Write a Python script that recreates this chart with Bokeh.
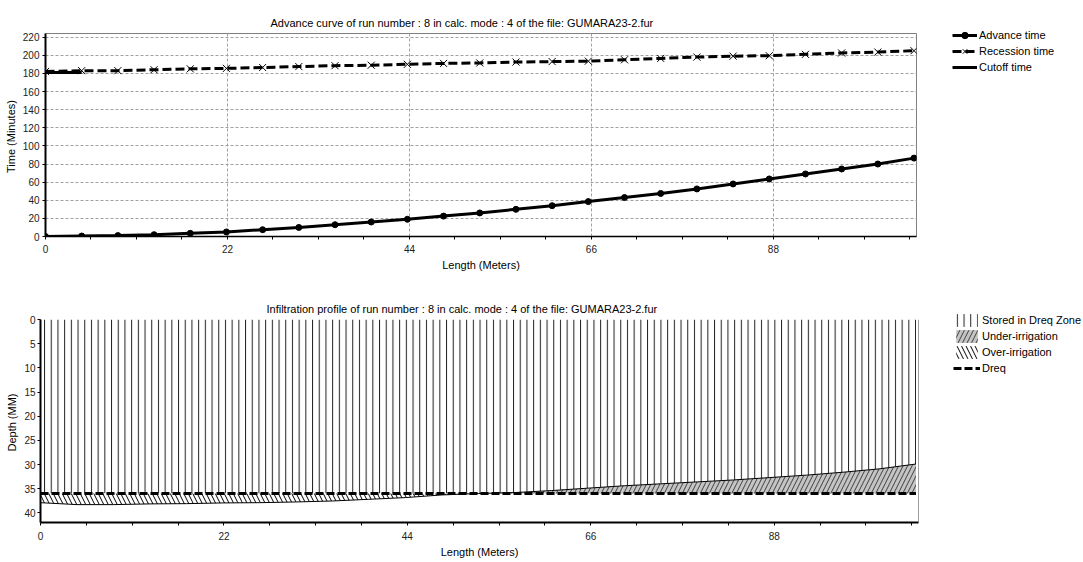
import numpy as np
from bokeh.plotting import figure
from bokeh.models import Range1d, FixedTicker, Legend, LegendItem, Span
from bokeh.embed import file_html
from bokeh.resources import INLINE

# ---------------- data ----------------
DIST = [0, 4.375, 8.75, 13.125, 17.5, 21.875, 26.25, 30.625, 35, 39.375, 43.75, 48.125,
        52.5, 56.875, 61.25, 65.625, 70, 74.375, 78.75, 83.125, 87.5, 91.875, 96.25, 100.625, 105]
ADVANCE = [0, 0.5, 1, 2, 3.5, 5, 7.5, 10, 13, 16, 19, 22.5,
           26, 30, 34, 38.5, 43, 47.5, 52.5, 58, 63.5, 69, 74.5, 80, 86.5]
RECESSION = [182, 183, 183, 184, 185, 185.5, 186.5, 187.5, 188.5, 189, 190, 191,
             191.5, 192.5, 193, 193.5, 195, 196.5, 198, 199, 199.5, 201, 202.5, 203.5, 205]
CUTOFF_X = [0, 4.375]
CUTOFF = [181, 181]
INFILTRATION = [37.9, 38.3, 38.3, 38.15, 38.1, 37.95, 37.9, 37.75, 37.55, 37.2, 36.85, 36.3,
                36.0, 35.8, 35.4, 34.9, 34.4, 34.0, 33.6, 33.2, 32.7, 32.2, 31.6, 30.9, 29.9]
DREQ = 36.0

X_TICKS = [0, 22, 44, 66, 88]
X_MINOR = [5.5, 11, 16.5, 27.5, 33, 38.5, 49.5, 55, 60.5, 71.5, 77, 82.5, 93.5, 99, 104.5]
TIME_TICKS = [0, 20, 40, 60, 80, 100, 120, 140, 160, 180, 200, 220]
DEPTH_TICKS = [0, 5, 10, 15, 20, 25, 30, 35, 40]
X_END = 105.3
TIME_MAX = 224
DEPTH_MAX = 42

TITLE1 = "Advance curve of run number : 8 in calc. mode : 4 of the file: GUMARA23-2.fur"
TITLE2 = "Infiltration profile of run number : 8 in calc. mode : 4 of the file: GUMARA23-2.fur"
FONT = "Liberation Sans"


def style_axes(p, xstandoff, ystandoff):
    for ax in [p.xaxis[0], p.yaxis[0]]:
        ax.axis_label_text_font = FONT
        ax.axis_label_text_font_size = "11px"
        ax.axis_label_text_font_style = "normal"
        ax.axis_label_text_color = "black"
        ax.major_label_text_font = FONT
        ax.major_label_text_font_size = "10px"
        ax.major_label_text_color = "#222222"
        ax.major_tick_in = 0
        ax.major_tick_out = 3
        ax.major_tick_line_color = "black"
        ax.minor_tick_in = 0
        ax.minor_tick_out = 3
        ax.minor_tick_line_color = "black"
        ax.axis_line_color = "black"
        ax.axis_label_standoff = 3
    p.xaxis[0].major_label_standoff = xstandoff
    p.yaxis[0].major_label_standoff = ystandoff
    p.title.text_font = FONT
    p.title.text_font_size = "11px"
    p.title.text_font_style = "normal"
    p.title.text_color = "black"
    p.title.align = "left"


def make_legend(items, loc, gw):
    return Legend(items=items, location=loc, glyph_width=gw, glyph_height=16,
                  label_height=16, spacing=0, padding=0, margin=0, label_standoff=2,
                  border_line_color=None, background_fill_alpha=0,
                  label_text_font=FONT, label_text_font_size="11px",
                  label_text_color="black", label_text_baseline="middle")


# ---------------- top chart ----------------
p1 = figure(frame_width=871, frame_height=203, x_range=Range1d(0, X_END), y_range=Range1d(0, TIME_MAX),
            output_backend="svg", toolbar_location=None, title=TITLE1,
            min_border_left=45, min_border_right=164, min_border_top=33, min_border_bottom=49)
style_axes(p1, 5, 3)
p1.title.offset = 225
p1.title.standoff = 10
p1.xaxis.axis_label = "Length (Meters)"
p1.yaxis.axis_label = "Time  (Minutes)"
p1.xaxis.ticker = FixedTicker(ticks=X_TICKS, minor_ticks=X_MINOR)
p1.yaxis.ticker = FixedTicker(ticks=TIME_TICKS)
p1.yaxis.minor_tick_out = 0
p1.yaxis.axis_line_width = 2
p1.xaxis.axis_line_width = 1.5
p1.xgrid.grid_line_color = "#a0a0a0"
p1.ygrid.grid_line_color = "#a0a0a0"
p1.xgrid.grid_line_dash = "3 2"
p1.ygrid.grid_line_dash = "3 2"
p1.outline_line_color = "#808080"

adv_line = p1.line(DIST, ADVANCE, line_color="black", line_width=3)
adv_pts = p1.scatter(DIST, ADVANCE, marker="circle", size=6, fill_color="black", line_color="black")
rec_line = p1.line(DIST, RECESSION, line_color="black", line_width=3, line_dash="9 4")
rec_pts = p1.scatter(DIST, RECESSION, marker="x", size=10, line_color="black", line_width=1)
cut_line = p1.line(CUTOFF_X, CUTOFF, line_color="black", line_width=3)

leg1 = make_legend([
    LegendItem(label="Advance time", renderers=[adv_line, adv_pts]),
    LegendItem(label="Recession time", renderers=[rec_line, rec_pts]),
    LegendItem(label="Cutoff time", renderers=[cut_line]),
], (36, 161), 25)
p1.add_layout(leg1, "right")

# ---------------- bottom chart ----------------
p2 = figure(frame_width=878, frame_height=203, x_range=Range1d(0, X_END), y_range=Range1d(DEPTH_MAX, 0),
            output_backend="svg", toolbar_location=None, title=TITLE2,
            min_border_left=40, min_border_right=162, min_border_top=34, min_border_bottom=38)
style_axes(p2, 6, 2)
p2.title.offset = 226
p2.title.standoff = 10
p2.xaxis.axis_label = "Length (Meters)"
p2.yaxis.axis_label = "Depth  (MM)"
p2.xaxis.ticker = FixedTicker(ticks=X_TICKS, minor_ticks=X_MINOR)
p2.yaxis.ticker = FixedTicker(ticks=DEPTH_TICKS)
p2.yaxis.minor_tick_out = 0
p2.yaxis.axis_line_width = 2
p2.xaxis.axis_line_width = 2
p2.xgrid.visible = False
p2.ygrid.visible = False
p2.outline_line_color = None

depth = np.array(INFILTRATION)
stored = p2.varea(x=DIST, y1=0, y2=np.minimum(depth, DREQ), fill_color=None,
                  hatch_pattern="|", hatch_scale=6.7, hatch_color="#202020", hatch_weight=1)
under = p2.varea(x=DIST, y1=np.minimum(depth, DREQ), y2=DREQ, fill_color="#c4c4c4",
                 hatch_pattern="/", hatch_scale=9, hatch_color="#404040", hatch_weight=1)
over = p2.varea(x=DIST, y1=DREQ, y2=np.maximum(depth, DREQ), fill_color="white",
                hatch_pattern="\\", hatch_scale=9, hatch_color="black", hatch_weight=1)
p2.line(DIST, INFILTRATION, line_color="black", line_width=1)
dreq_line = p2.line(DIST, [DREQ] * len(DIST), line_color="black", line_width=3, line_dash="8 3")
p2.add_layout(Span(location=X_END, dimension="height", line_color="#404040", line_width=1))

leg2 = make_legend([
    LegendItem(label="Stored in Dreq Zone", renderers=[stored]),
    LegendItem(label="Under-irrigation", renderers=[under]),
    LegendItem(label="Over-irrigation", renderers=[over]),
    LegendItem(label="Dreq", renderers=[dreq_line]),
], (35, 146), 27)
p2.add_layout(leg2, "right")

open("out.html", "w").write(file_html([p1, p2], INLINE))
